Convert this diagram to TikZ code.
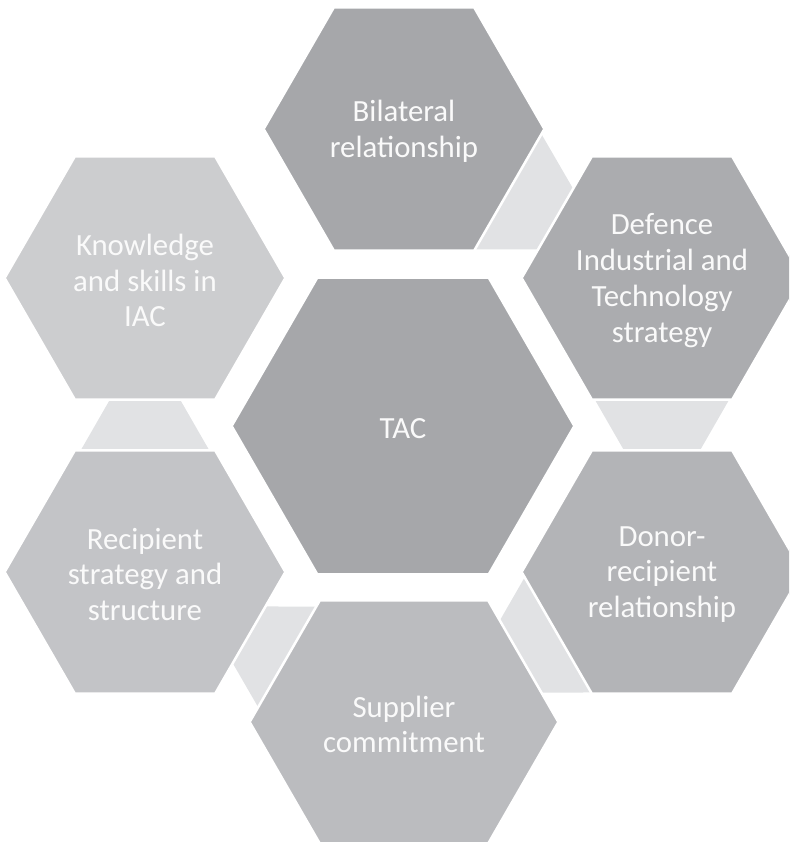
\documentclass[tikz,border=0pt]{standalone}
\usepackage{fontspec}
\setmainfont{Carlito}
\usepackage{tikz}
\usetikzlibrary{calc, backgrounds}
\definecolor{hexcore}{RGB}{166,167,170}
\definecolor{hexone}{RGB}{166,167,170}
\definecolor{hextwo}{RGB}{171,172,175}
\definecolor{hexthree}{RGB}{179,180,183}
\definecolor{hexfour}{RGB}{187,188,191}
\definecolor{hexfive}{RGB}{195,196,199}
\definecolor{hexsix}{RGB}{204,205,207}
\definecolor{hexlink}{RGB}{225,226,228}
\definecolor{celltxt}{RGB}{250,250,250}
\tikzset{
  %% ---- cells ----
  cell/.style     = {fill=#1, draw=white, line width=2.5pt, line join=miter},
  hex/.style 2 args = {insert path={
      +({-#1},0) -- +({-#1+0.5774*#2},{-#2}) -- +({#1-0.5774*#2},{-#2})
      -- +({#1},0) -- +({#1-0.5774*#2},{#2}) -- +({-#1+0.5774*#2},{#2})
      -- cycle}},
  celltext/.style = {text=celltxt, align=center, inner sep=0pt, yshift=-2.5pt,
                     font=\fontsize{30.8}{35.8}\selectfont},
  %% ---- links ----
  link/.style 2 args = {fill=hexlink, insert path={
      ($(#1)!109pt!(#2)!73pt!90:(#2)$) -- ($(#1)!189pt!(#2)!27pt!90:(#2)$)
      -- ($(#1)!189pt!(#2)!27pt!-90:(#2)$) -- ($(#1)!109pt!(#2)!73pt!-90:(#2)$)
      -- cycle}},
}

\begin{document}
\begin{tikzpicture}[x=1pt, y=-1pt]
  \useasboundingbox (0,0) rectangle (789,842);
  \clip (0,0) rectangle (789,842);

  %% Centre cell
  \path[cell=hexcore] (403,426) node[celltext] (tac) {TAC} [hex={171.4}{148.4}];

  %% Ring of cells, clockwise from the top
  \path[cell=hexone] (404,129)
    node[celltext] (bil) {Bilateral\\relationship} [hex={140.4}{121.6}];
  \path[cell=hextwo] (662,278)
    node[celltext] (def) {Defence\\Industrial and\\Technology\\strategy} [hex={140.4}{121.6}];
  \path[cell=hexthree] (662,572)
    node[celltext] (don) {Donor-\\recipient\\relationship} [hex={140.4}{121.6}];
  \path[cell=hexfour] (404,722)
    node[celltext] (sup) {Supplier\\commitment} [hex={154.4}{121.6}];
  \path[cell=hexfive] (145,572)
    node[celltext] (rec) {Recipient\\strategy and\\structure} [hex={140.4}{121.6}];
  \path[cell=hexsix] (145,278)
    node[celltext] (kno) {Knowledge\\and skills in\\IAC} [hex={140.4}{121.6}];

  %% Links between neighbouring cells
  \begin{scope}[on background layer]
    \path[link={bil}{def}];
    \path[link={def}{don}];
    \path[link={don}{sup}];
    \path[link={sup}{rec}];
    \path[link={rec}{kno}];
  \end{scope}

\end{tikzpicture}
\end{document}
